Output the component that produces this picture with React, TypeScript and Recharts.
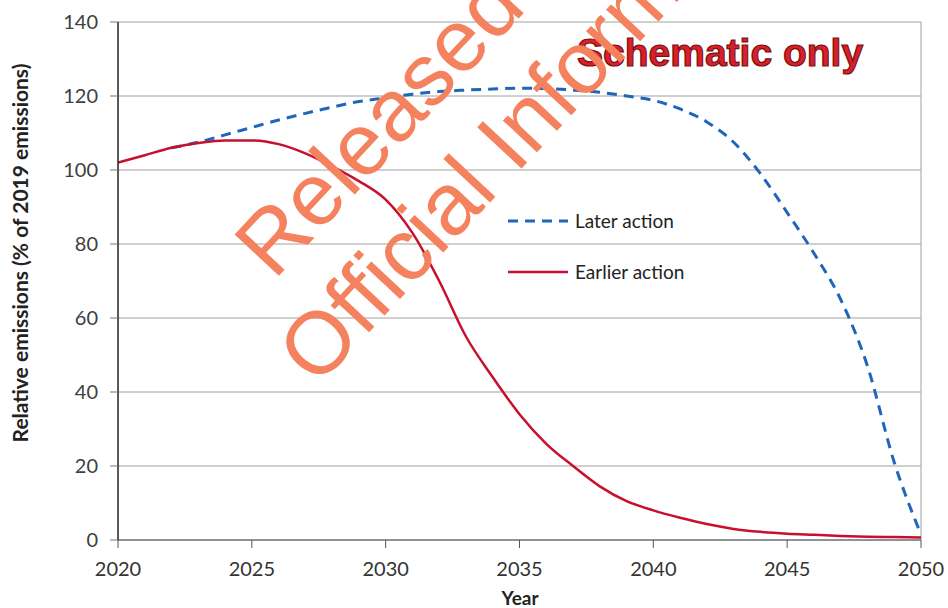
import { LineChart, CartesianGrid, XAxis, YAxis, Legend, Line, ReferenceLine } from "recharts";

const years = [2020, 2021, 2022, 2023, 2024, 2025, 2026, 2027, 2028, 2029, 2030, 2031, 2032, 2033, 2034, 2035, 2036, 2037, 2038, 2039, 2040, 2041, 2042, 2043, 2044, 2045, 2046, 2047, 2048, 2049, 2050];
const earlierAction = [102, 104, 106, 107.3, 108, 108, 107, 104.5, 101, 97, 92, 83, 70, 55, 44, 34, 26, 20, 14.5, 10.5, 8, 6, 4.3, 3, 2.2, 1.7, 1.4, 1.1, 0.9, 0.8, 0.7];
const laterAction = [null, null, 106, 107.5, 109.5, 111.5, 113.5, 115.3, 117, 118.5, 119.5, 120.5, 121.2, 121.6, 121.9, 122.1, 122, 121.6, 121, 120, 118.8, 116.5, 113, 107.5, 99, 88.5, 77.5, 65, 47, 21, 1.5];
const xTicks = [2020, 2025, 2030, 2035, 2040, 2045, 2050];
const yTicks = [0, 20, 40, 60, 80, 100, 120, 140];
const legendOrder = ["later", "earlier"];

const dados = years.map((year, i) => ({ year, earlier: earlierAction[i], later: laterAction[i] }));

const fonte = "Lato, 'Open Sans', sans-serif";

function LegendaCustom(props: any) {
  const itens = [...(props.payload || [])].sort(
    (a: any, b: any) => legendOrder.indexOf(a.dataKey) - legendOrder.indexOf(b.dataKey)
  );
  return (
    <div>
      {itens.map((entry: any) => (
        <div key={entry.value} style={{ display: "flex", alignItems: "center", height: 51 }}>
          <svg width={62} height={10}>
            <line x1={0} y1={5} x2={60} y2={5} stroke={entry.color}
              strokeWidth={entry.dataKey === "later" ? 3 : 2.5}
              strokeDasharray={entry.dataKey === "later" ? "10 7" : undefined} />
          </svg>
          <span style={{ marginLeft: 5, fontFamily: fonte, fontSize: 19, color: "#222" }}>{entry.value}</span>
        </div>
      ))}
    </div>
  );
}

export default function App() {
  return (
    <div style={{ position: "absolute", left: 0, top: 0, width: 948, height: 608, background: "#fff" }}>
      <LineChart width={948} height={608} data={dados} margin={{ top: 22, right: 27, bottom: 0, left: 0 }}>
        <CartesianGrid vertical={false} stroke="#a0a0a0" />
        <XAxis dataKey="year" type="number" domain={[2020, 2050]} ticks={xTicks} height={68}
          tickSize={8} tickMargin={14} axisLine={{ stroke: "#555" }} tickLine={{ stroke: "#555" }}
          tick={{ fill: "#333", fontSize: 20, fontFamily: fonte }} />
        <YAxis domain={[0, 140]} ticks={yTicks} width={118} tickSize={8} tickMargin={12}
          axisLine={{ stroke: "#222", strokeWidth: 1.5 }} tickLine={{ stroke: "#777" }}
          tick={{ fill: "#404040", fontSize: 20, fontFamily: fonte }} />
        <ReferenceLine x={2050} stroke="#a0a0a0" />
        <Legend layout="vertical" align="center" verticalAlign="middle" content={LegendaCustom}
          wrapperStyle={{ position: "absolute", left: 508, top: 195, width: "auto", height: "auto" }} />
        <Line type="monotone" dataKey="later" name="Later action" stroke="#1f66bb" strokeWidth={3}
          strokeDasharray="10 7" dot={false} isAnimationActive={false} />
        <Line type="monotone" dataKey="earlier" name="Earlier action" stroke="#c8102e" strokeWidth={2.5}
          dot={false} isAnimationActive={false} />
      </LineChart>
      <svg width={948} height={608} style={{ position: "absolute", left: 0, top: 0, pointerEvents: "none" }}>
        <text x={28} y={253} transform="rotate(-90 28 253)" textAnchor="middle" fontFamily={fonte}
          fontWeight="bold" fontSize={21} fill="#222">Relative emissions (% of 2019 emissions)</text>
        <text x={520} y={605} textAnchor="middle" fontFamily={fonte} fontWeight="bold" fontSize={19} fill="#222">Year</text>
        <text x={577} y={66} fontFamily="'Liberation Sans', Arial, sans-serif" fontWeight="bold" fontSize={39}
          fill="#d8202c" stroke="#7a1010" strokeWidth={1.2}>Schematic only</text>
        <g fill="#f5825e" fontFamily="'Liberation Sans', Arial, sans-serif" fontSize={88}>
          <text x={274} y={281} transform="rotate(-47 274 281)">Released under the</text>
          <text x={317} y={388} transform="rotate(-47 317 388)">Official Information Act</text>
        </g>
      </svg>
    </div>
  );
}
